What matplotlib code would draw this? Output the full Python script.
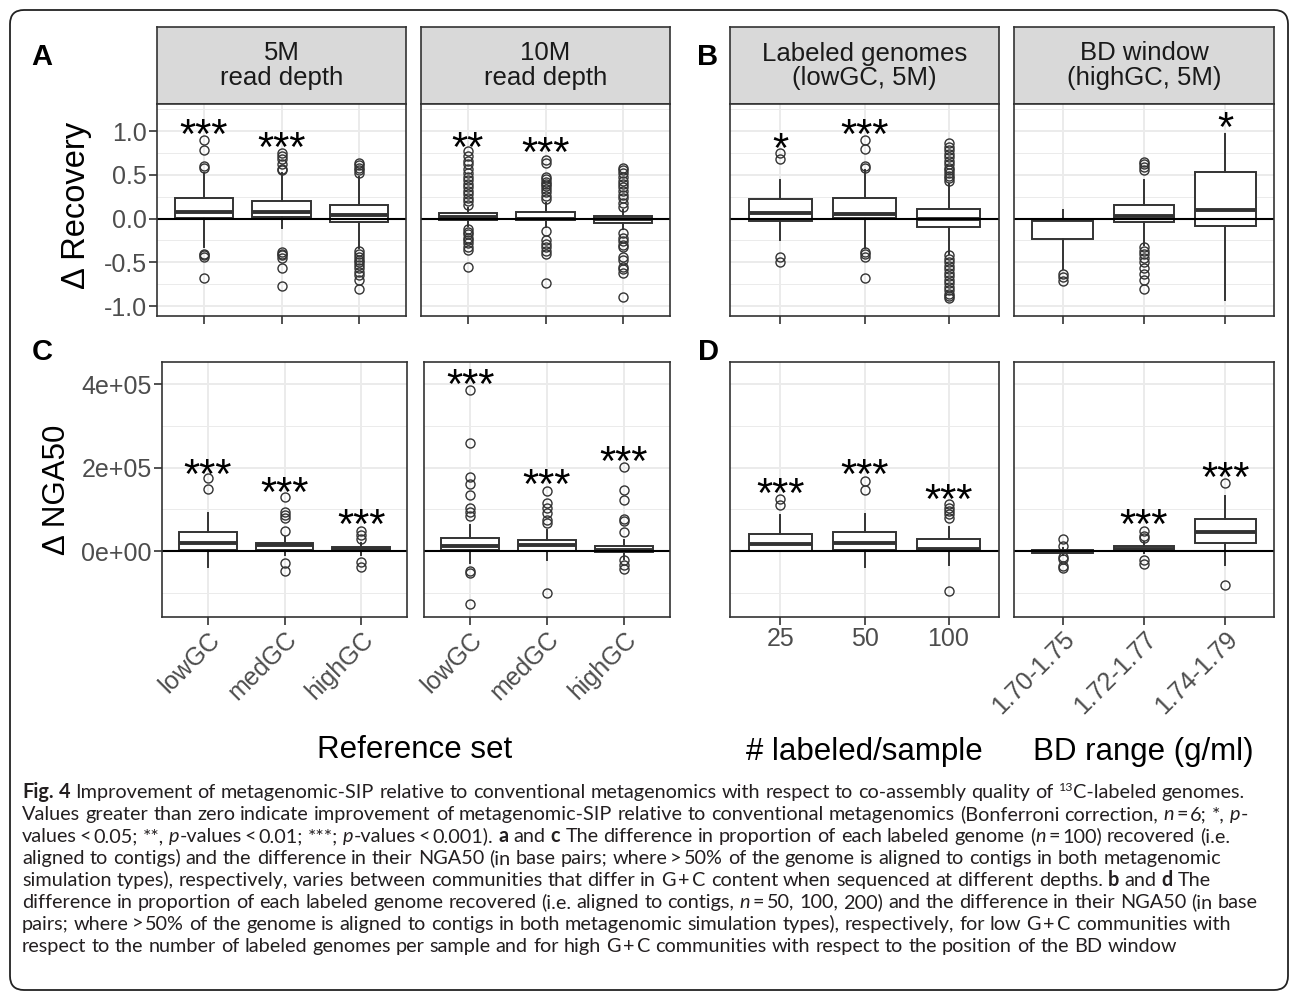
import re
import numpy as np
import matplotlib
matplotlib.use('Agg')
import matplotlib.pyplot as plt
from matplotlib.patches import FancyBboxPatch
from matplotlib.transforms import IdentityTransform

W, H = 1290, 1000
plt.rcParams['font.family'] = ['Liberation Sans', 'DejaVu Sans']

# ---------------- data ----------------
gc_sets = ['lowGC', 'medGC', 'highGC']
n_labeled = ['25', '50', '100']
bd_ranges = ['1.70-1.75', '1.72-1.77', '1.74-1.79']

# box stats per category: (whisker low, q1, median, q3, whisker high)
# delta recovery
rec_5m_box = [(-0.33, 0.01, 0.07, 0.23, 0.52), (-0.11, 0.02, 0.07, 0.20, 0.52), (-0.34, -0.04, 0.04, 0.16, 0.47)]
rec_5m_out = [[0.90, 0.78, 0.60, 0.58, -0.40, -0.42, -0.44, -0.68],
              [0.75, 0.72, 0.68, 0.62, 0.57, 0.55, -0.38, -0.40, -0.42, -0.45, -0.57, -0.77],
              [0.64, 0.61, 0.58, 0.55, 0.52, -0.37, -0.41, -0.44, -0.47, -0.50, -0.53, -0.57, -0.61,
               -0.65, -0.70, -0.80]]
rec_5m_sig = ['***', '***', '']
rec_5m_sig_y = [1.09, 0.94, 0]

rec_10m_box = [(-0.08, -0.02, 0.02, 0.06, 0.12), (-0.10, -0.02, 0.0, 0.08, 0.18), (-0.12, -0.05, -0.01, 0.03, 0.10)]
rec_10m_out = [[0.77, 0.72, 0.66, 0.62, 0.57, 0.52, 0.48, 0.44, 0.40, 0.36, 0.32, 0.28, 0.24, 0.20, 0.16,
                -0.12, -0.15, -0.18, -0.22, -0.25, -0.28, -0.32, -0.36, -0.55],
               [0.67, 0.64, 0.47, 0.45, 0.42, 0.40, 0.37, 0.34, 0.30, 0.26, 0.22,
                -0.14, -0.24, -0.29, -0.33, -0.37, -0.41, -0.74],
               [0.58, 0.55, 0.52, 0.47, 0.43, 0.40, 0.36, 0.32, 0.27, 0.23, 0.18, 0.13,
                -0.17, -0.22, -0.26, -0.30, -0.33, -0.44, -0.47, -0.55, -0.58, -0.62, -0.90]]
rec_10m_sig = ['**', '***', '']
rec_10m_sig_y = [0.94, 0.88, 0]

rec_lab_box = [(-0.24, -0.03, 0.06, 0.22, 0.44), (-0.34, 0.01, 0.05, 0.23, 0.55), (-0.40, -0.10, -0.01, 0.11, 0.40)]
rec_lab_out = [[0.75, 0.68, -0.44, -0.50],
               [0.90, 0.79, 0.60, 0.58, -0.38, -0.41, -0.44, -0.68],
               [0.86, 0.82, 0.78, 0.74, 0.70, 0.66, 0.62, 0.58, 0.55, 0.52, 0.49, 0.46, 0.43,
                -0.42, -0.46, -0.50, -0.54, -0.58, -0.62, -0.66, -0.70, -0.74, -0.78, -0.82, -0.86,
                -0.89, -0.91]]
rec_lab_sig = ['*', '***', '']
rec_lab_sig_y = [0.93, 1.09, 0]

rec_bd_box = [(-0.58, -0.23, -0.02, 0.0, 0.10), (-0.30, -0.04, 0.03, 0.15, 0.44), (-0.93, -0.09, 0.10, 0.53, 0.97)]
rec_bd_out = [[-0.63, -0.67, -0.71],
              [0.65, 0.62, 0.59, 0.56, -0.33, -0.37, -0.41, -0.45, -0.50, -0.56, -0.63, -0.70, -0.81],
              []]
rec_bd_sig = ['', '', '*']
rec_bd_sig_y = [0, 0, 1.16]

# delta NGA50 (thousands of bp)
nga_5m_box = [(-37, 2, 20, 47, 91), (-8, 2, 14, 20, 35), (-10, 1, 5, 11, 20)]
nga_5m_out = [[175, 150], [130, 95, 87, 80, 48, -28, -48], [49, 40, 30, -25, -38]]
nga_5m_sig = ['***', '***', '***']
nga_5m_sig_y = [209, 166, 89]

nga_10m_box = [(-28, 2, 12, 33, 63), (-22, 1, 14, 27, 51), (-18, -1, 4, 12, 27)]
nga_10m_out = [[386, 260, 178, 162, 135, 103, 95, 85, -48, -51, -126],
               [145, 115, 103, 92, 75, 67, -100],
               [201, 147, 123, 77, 72, 47, -21, -33, -43]]
nga_10m_sig = ['***', '***', '***']
nga_10m_sig_y = [426, 185, 240]

nga_lab_box = [(0, 1, 17, 41, 87), (-38, 2, 20, 47, 89), (-33, 0, 6, 29, 59)]
nga_lab_out = [[125, 110], [169, 147], [113, 104, 97, 89, 79, -94]]
nga_lab_sig = ['***', '***', '***']
nga_lab_sig_y = [165, 210, 151]

nga_bd_box = [(-8, -4, -1, 3, 8), (-5, 1, 6, 12, 22), (-33, 19, 47, 77, 132)]
nga_bd_out = [[29, 12, -14, -18, -36, -40], [49, 36, 31, -21, -31], [163, -81]]
nga_bd_sig = ['', '***', '***']
nga_bd_sig_y = [0, 89, 202]

# ---------------- figure ----------------
fig = plt.figure(figsize=(W / 100, H / 100), dpi=100)
renderer = fig.canvas.get_renderer()

frame = FancyBboxPatch((10, 10), 1278, 980, boxstyle='round,pad=0,rounding_size=14',
                       transform=IdentityTransform(), fill=False, ec='#222222', lw=1.3)
fig.add_artist(frame)

DARK = '#333333'


def px_axes(l, t, r, b):
    return fig.add_axes([l / W, 1 - b / H, (r - l) / W, (b - t) / H])


def strip(l, r, label):
    sa = px_axes(l, 27, r, 104)
    sa.set_facecolor('#D9D9D9')
    sa.set_xticks([])
    sa.set_yticks([])
    for s in sa.spines.values():
        s.set_color(DARK)
        s.set_linewidth(1.2)
    sa.text(0.5, 0.5, label, ha='center', va='center', fontsize=18.5, color='#1A1A1A',
            linespacing=1.0, transform=sa.transAxes)


def panel(rect, box, out, sig, sig_y, ylim, majors, minors, scale=1.0):
    ax = px_axes(*rect)
    stats = []
    for (lo, q1, med, q3, hi), fl in zip(box, out):
        stats.append(dict(whislo=lo * scale, q1=q1 * scale, med=med * scale, q3=q3 * scale,
                          whishi=hi * scale, fliers=np.array(fl) * scale))
    ax.bxp(stats, positions=[1, 2, 3], widths=0.75, showcaps=False, patch_artist=True,
           boxprops=dict(facecolor='white', edgecolor=DARK, linewidth=1.4),
           medianprops=dict(color=DARK, linewidth=2.8, solid_capstyle='butt'),
           whiskerprops=dict(color=DARK, linewidth=1.4),
           flierprops=dict(marker='o', markerfacecolor='none', markeredgecolor=DARK,
                           markersize=6.5, markeredgewidth=1.0))
    ax.axhline(0, color='black', lw=1.5, zorder=4)
    for i, (s, y) in enumerate(zip(sig, sig_y)):
        if s:
            ax.annotate(s, (i + 1, y * scale), xytext=(0, -0.585 * 30), textcoords='offset points',
                        ha='center', va='baseline', fontsize=30, color='black', zorder=5)
    ax.set_xlim(0.4, 3.6)
    ax.set_ylim(ylim[0] * scale, ylim[1] * scale)
    ax.set_yticks([m * scale for m in majors])
    ax.set_yticks([m * scale for m in minors], minor=True)
    ax.set_xticks([1, 2, 3])
    ax.set_axisbelow(True)
    ax.grid(which='major', color='#EBEBEB', lw=1.4)
    ax.grid(which='minor', axis='y', color='#EBEBEB', lw=0.7)
    for s in ax.spines.values():
        s.set_color(DARK)
        s.set_linewidth(1.2)
        s.set_zorder(6)
    ax.tick_params(which='major', direction='out', length=5.5, width=1.2, color=DARK,
                   labelsize=18, labelcolor='#4D4D4D', pad=2)
    ax.tick_params(which='minor', length=0)
    ax.tick_params(axis='y', left=False, labelleft=False)
    return ax


def show_y(ax, labels):
    ax.tick_params(axis='y', left=True, labelleft=True)
    ax.set_yticklabels(labels)


rec_lim = (-1.114, 1.309)
rec_major = [-1.0, -0.5, 0.0, 0.5, 1.0]
rec_minor = [-0.75, -0.25, 0.25, 0.75, 1.25]
nga_lim = (-157.2, 452.9)
nga_major = [0, 200, 400]
nga_minor = [-100, 100, 300]

# row 1: recovery
strip(157, 406, '5M\nread depth')
strip(421, 670, '10M\nread depth')
strip(730, 999, 'Labeled genomes\n(lowGC, 5M)')
strip(1014, 1274, 'BD window\n(highGC, 5M)')

a1 = panel((157, 104, 406, 316), rec_5m_box, rec_5m_out, rec_5m_sig, rec_5m_sig_y, rec_lim, rec_major, rec_minor)
a2 = panel((421, 104, 670, 316), rec_10m_box, rec_10m_out, rec_10m_sig, rec_10m_sig_y, rec_lim, rec_major, rec_minor)
b1 = panel((730, 104, 999, 316), rec_lab_box, rec_lab_out, rec_lab_sig, rec_lab_sig_y, rec_lim, rec_major, rec_minor)
b2 = panel((1014, 104, 1274, 316), rec_bd_box, rec_bd_out, rec_bd_sig, rec_bd_sig_y, rec_lim, rec_major, rec_minor)
show_y(a1, ['-1.0', '-0.5', '0.0', '0.5', '1.0'])
for ax in (a1, a2, b1, b2):
    ax.set_xticklabels([])

# row 2: NGA50
c1 = panel((162, 362, 407, 617), nga_5m_box, nga_5m_out, nga_5m_sig, nga_5m_sig_y, nga_lim, nga_major, nga_minor, 1e3)
c2 = panel((424, 362, 670, 617), nga_10m_box, nga_10m_out, nga_10m_sig, nga_10m_sig_y, nga_lim, nga_major, nga_minor, 1e3)
d1 = panel((730, 362, 999, 617), nga_lab_box, nga_lab_out, nga_lab_sig, nga_lab_sig_y, nga_lim, nga_major, nga_minor, 1e3)
d2 = panel((1014, 362, 1274, 617), nga_bd_box, nga_bd_out, nga_bd_sig, nga_bd_sig_y, nga_lim, nga_major, nga_minor, 1e3)
show_y(c1, ['0e+00', '2e+05', '4e+05'])
for ax in (c1, c2):
    ax.set_xticklabels(gc_sets, rotation=45, ha='right', va='top', rotation_mode='anchor')
d1.set_xticklabels(n_labeled)
d2.set_xticklabels(bd_ranges, rotation=45, ha='right', va='top', rotation_mode='anchor')


# titles and panel letters
def ftext(x, y, s, **kw):
    fig.text(x / W, 1 - y / H, s, **kw)


for lab, (x, y) in zip('ABCD', [(42, 57), (708, 57), (42, 352), (708, 352)]):
    ftext(x, y, lab, fontsize=21, fontweight='bold', ha='center', va='center')
ftext(77, 205, '\u0394 Recovery', fontsize=23.5, rotation=90, ha='center', va='center')
ftext(57, 490, '\u0394 NGA50', fontsize=22.5, rotation=90, ha='center', va='center')
ftext(415, 750, 'Reference set', fontsize=22.5, ha='center', va='center')
ftext(864, 752, '# labeled/sample', fontsize=22.5, ha='center', va='center')
ftext(1143, 752, 'BD range (g/ml)', fontsize=22.5, ha='center', va='center')

# ---------------- caption ----------------
TS = '\u2009'
caption = [
    [('Fig. 4', 'b'), (' Improvement of metagenomic-SIP relative to conventional metagenomics with respect to co-assembly quality of ', 'r'),
     ('13', 'sup'), ('C-labeled genomes.', 'r')],
    [('Values greater than zero indicate improvement of metagenomic-SIP relative to conventional metagenomics (Bonferroni correction, ', 'r'),
     ('n', 'i'), (TS + '=' + TS + '6; *, ', 'r'), ('p', 'i'), ('-', 'r')],
    [('values' + TS + '<' + TS + '0.05; **, ', 'r'), ('p', 'i'), ('-values' + TS + '<' + TS + '0.01; ***; ', 'r'), ('p', 'i'),
     ('-values' + TS + '<' + TS + '0.001). ', 'r'), ('a', 'b'), (' and ', 'r'), ('c', 'b'),
     (' The difference in proportion of each labeled genome (', 'r'), ('n', 'i'), (TS + '=' + TS + '100) recovered (i.e.', 'r')],
    [('aligned to contigs) and the difference in their NGA50 (in base pairs; where' + TS + '>' + TS + '50% of the genome is aligned to contigs in both metagenomic', 'r')],
    [('simulation types), respectively, varies between communities that differ in G' + TS + '+' + TS + 'C content when sequenced at different depths. ', 'r'),
     ('b', 'b'), (' and ', 'r'), ('d', 'b'), (' The', 'r')],
    [('difference in proportion of each labeled genome recovered (i.e. aligned to contigs, ', 'r'), ('n', 'i'),
     (TS + '=' + TS + '50, 100, 200) and the difference in their NGA50 (in base', 'r')],
    [('pairs; where' + TS + '>' + TS + '50% of the genome is aligned to contigs in both metagenomic simulation types), respectively, for low G' + TS + '+' + TS + 'C communities with', 'r')],
    [('respect to the number of labeled genomes per sample and for high G' + TS + '+' + TS + 'C communities with respect to the position of the BD window', 'r')],
]

_cache = {}
SPACES = ' \u2009'


def cap_kw(sty, size, ha='left'):
    kw = dict(family=['Lato', 'DejaVu Sans'], color='#231F20', transform=IdentityTransform(),
              ha=ha, va='baseline', fontsize=size * 0.62 if sty == 'sup' else size)
    if sty == 'b':
        kw['fontweight'] = 'bold'
    if sty == 'i':
        kw['fontstyle'] = 'italic'
    return kw


def measure(txt, sty, size):
    key = (txt, sty, size)
    if key not in _cache:
        t = fig.text(0, 0, txt, **cap_kw(sty, size))
        _cache[key] = t.get_window_extent(renderer).width
        t.remove()
    return _cache[key]


def space_w(ch, sty, size):
    return measure('a' + ch + 'a', sty, size) - measure('aa', sty, size)


def layout_line(parts, x0, ybase, size, draw):
    x = x0
    for txt, sty in parts:
        dy = size * 0.36 * 100 / 72 if sty == 'sup' else 0
        core = txt.strip(SPACES)
        lead = txt[:len(txt) - len(txt.lstrip(SPACES))]
        trail = txt[len(txt.rstrip(SPACES)):] if core else ''
        for ch in lead:
            x += space_w(ch, sty, size)
        if core:
            if draw:
                # one text per word, right edge taken from the whole segment's layout
                for m in re.finditer(r'[^ \u2009]+', core):
                    right = x + measure(core[:m.end()], sty, size)
                    fig.text(right, ybase + dy, m.group(), **cap_kw(sty, size, ha='right'))
            x += measure(core, sty, size)
        for ch in trail:
            x += space_w(ch, sty, size)
    return x - x0


cap_x0 = 22
w12 = layout_line(caption[0], cap_x0, 0, 12, False)
cap_size = 12 * (1245 - cap_x0) / w12
for i, parts in enumerate(caption):
    yc = 793.3 + i * 21.9
    layout_line(parts, cap_x0, H - (yc + 5), cap_size, True)

fig.savefig('out.png', dpi=100)
